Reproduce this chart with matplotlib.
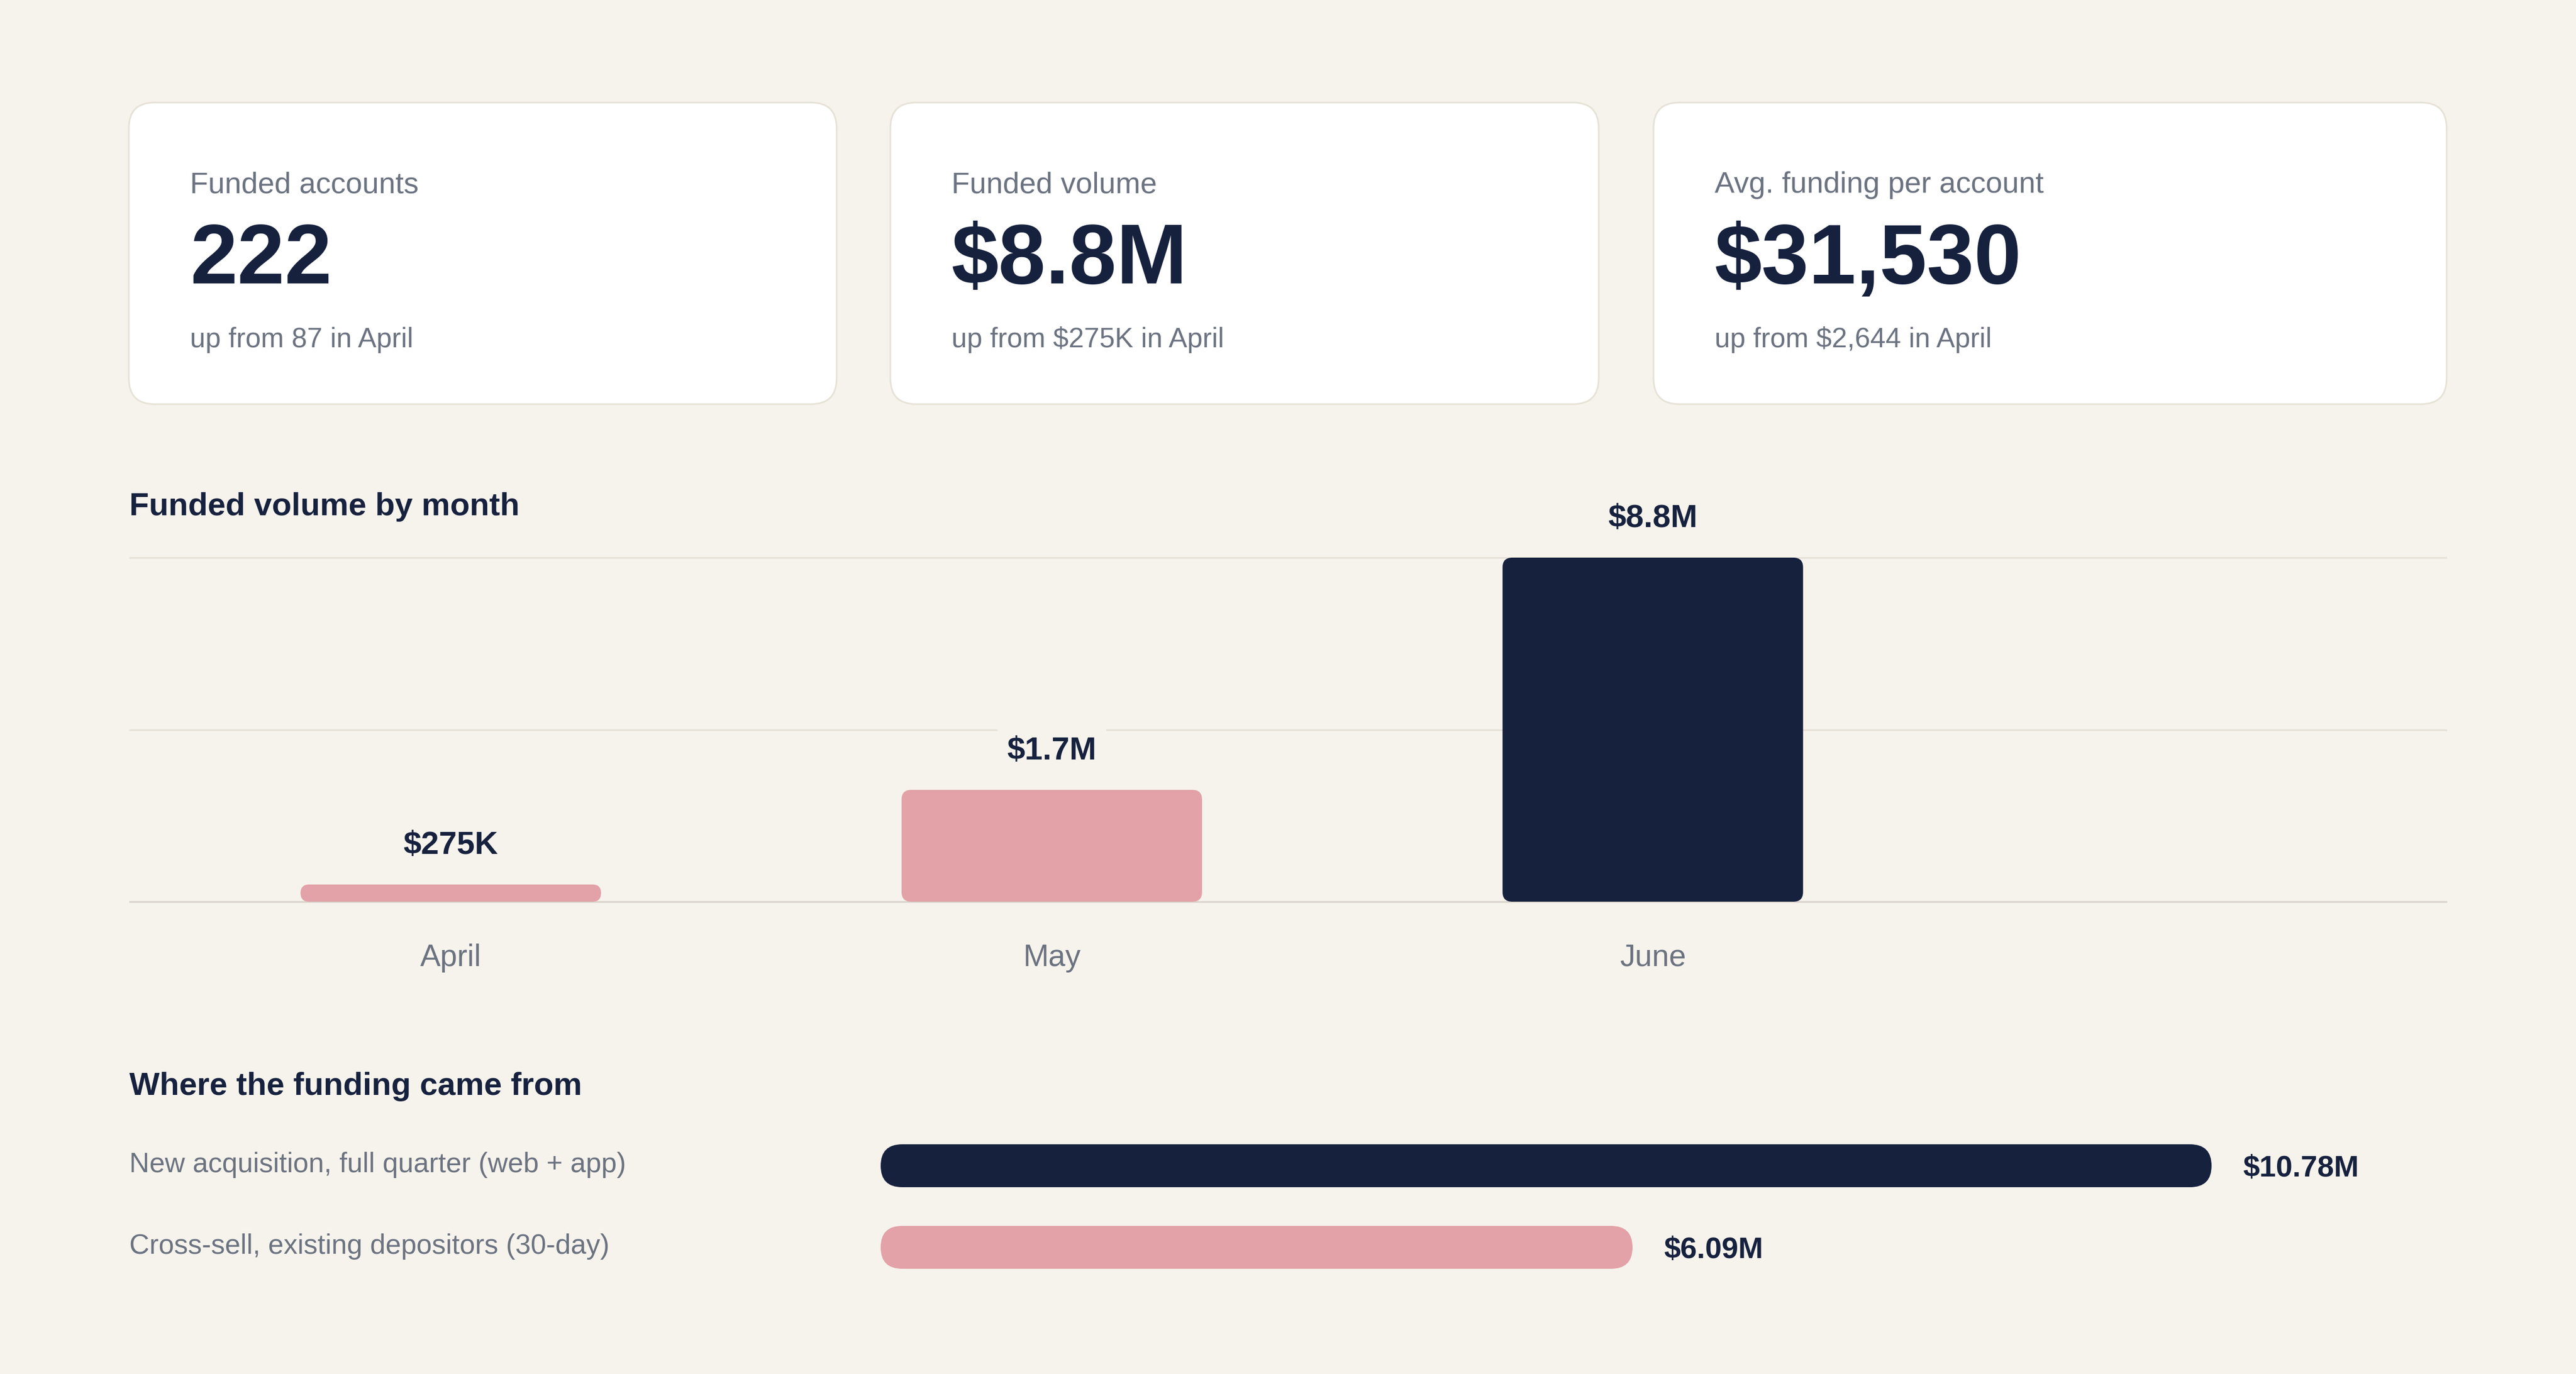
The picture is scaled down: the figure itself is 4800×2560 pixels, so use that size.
#...............................................................
# funding dashboard: KPI cards, monthly volume, funding sources
#...............................................................
import numpy as np
import matplotlib
matplotlib.use("Agg")
import matplotlib.pyplot as plt
from matplotlib.patches import FancyBboxPatch
from matplotlib import transforms

#...............................................................
# data
card_titles = ["Funded accounts", "Funded volume", "Avg. funding per account"]
card_values = ["222", "$8.8M", "$31,530"]
card_notes = ["up from 87 in April", "up from $275K in April",
              "up from $2,644 in April"]

months = ["April", "May", "June"]
month_heights = [0.44, 2.86, 8.8]      # drawn bar heights, $M
month_labels = ["$275K", "$1.7M", "$8.8M"]

sources = ["New acquisition, full quarter (web + app)",
           "Cross-sell, existing depositors (30-day)"]
source_values = [10.78, 6.09]          # $M
source_labels = ["$10.78M", "$6.09M"]

#...............................................................
# styling
BG = "#F6F3EC"
NAVY = "#16213E"
PINK = "#E2A2A7"
GRAY = "#6B7280"
GRID = "#E6E1D8"
BORDER = "#E7E2D7"
month_colors = [PINK, PINK, NAVY]
source_colors = [NAVY, PINK]

plt.rcParams["font.family"] = ["Liberation Sans", "DejaVu Sans"]

W, H, DPI = 4800, 2560, 200
fig = plt.figure(figsize=(W / DPI, H / DPI), dpi=DPI, facecolor=BG)

# canvas in pixel units for cards and headings
canvas = fig.add_axes([0, 0, 1, 1])
canvas.set_xlim(0, W)
canvas.set_ylim(H, 0)
canvas.axis("off")


def fig_rect(left, top, right, bottom):
    return [left / W, 1 - bottom / H, (right - left) / W, (bottom - top) / H]


def round_bars(ax, bars, colors, r_px):
    # swap plain bars for rounded ones, radius given in pixels
    p0 = ax.transData.transform((0, 0))
    p1 = ax.transData.transform((1, 1))
    sx, sy = abs(p1[0] - p0[0]), abs(p1[1] - p0[1])
    for b, c in zip(bars, colors):
        x, y, w, h = b.get_x(), b.get_y(), b.get_width(), b.get_height()
        b.remove()
        r = min(r_px, abs(h) * sy / 2, abs(w) * sx / 2)
        ax.add_patch(FancyBboxPatch((x, y), w, h,
                                    boxstyle="round,pad=0,rounding_size=%g" % (r / sx),
                                    mutation_aspect=sx / sy,
                                    fc=c, ec="none", zorder=2))


#...............................................................
# KPI cards
card_left = [240, 1659, 3081]
card_right = [1559, 2979, 4559]
for i in range(len(card_titles)):
    l, r = card_left[i], card_right[i]
    canvas.add_patch(FancyBboxPatch((l, 191), r - l, 562,
                                    boxstyle="round,pad=0,rounding_size=48",
                                    fc="white", ec=BORDER, lw=1.1))
    tx = l + 114
    canvas.text(tx, 359, card_titles[i], fontsize=20, color=GRAY, va="baseline")
    canvas.text(tx, 528, card_values[i], fontsize=57, color=NAVY,
                weight="bold", va="baseline")
    canvas.text(tx, 647, card_notes[i], fontsize=18.6, color=GRAY, va="baseline")

#...............................................................
# funded volume by month
canvas.text(241, 960, "Funded volume by month", fontsize=21.5, color=NAVY,
            weight="bold", va="baseline")

ax1 = fig.add_axes(fig_rect(242, 1039, 4558, 1680))
ax1.set_facecolor("none")
ax1.set_xlim(-0.534, 3.32)
ax1.set_ylim(0, 8.8)
for yv in [4.4, 8.8]:
    ax1.axhline(yv, color=GRID, lw=1.1, zorder=0, clip_on=False)
ax1.axhline(0, color="#DAD4CC", lw=1.2, zorder=1, clip_on=False)

xpos = np.arange(len(months))
bars = ax1.bar(xpos, month_heights, width=0.5)
round_bars(ax1, bars, month_colors, 18)

for xi, hv, lab in zip(xpos, month_heights, month_labels):
    ax1.annotate(lab, (xi, hv), xytext=(0, 26), textcoords="offset points",
                 ha="center", va="center", fontsize=21.6, weight="bold",
                 color=NAVY, zorder=4, annotation_clip=False,
                 bbox=dict(boxstyle="square,pad=0.3", fc=BG, ec="none"))

ax1.set_xticks(xpos, months)
ax1.tick_params(axis="x", length=0, pad=28, labelsize=20.5, labelcolor=GRAY)
ax1.set_yticks([])
for s in ax1.spines.values():
    s.set_visible(False)

#...............................................................
# where the funding came from
canvas.text(241, 2040, "Where the funding came from", fontsize=21.5, color=NAVY,
            weight="bold", va="baseline")

ax2 = fig.add_axes(fig_rect(1641, 2096, 4558, 2400))
ax2.set_facecolor("none")
ax2.set_xlim(0, 12.68)
ax2.set_ylim(1.5, -0.5)
ypos = np.arange(len(sources))
hbars = ax2.barh(ypos, source_values, height=0.526)
round_bars(ax2, hbars, source_colors, 200)

for yi, v, lab in zip(ypos, source_values, source_labels):
    ax2.annotate(lab, (v, yi), xytext=(21, -2), textcoords="offset points",
                 ha="left", va="center", fontsize=20.0, weight="bold",
                 color=NAVY, annotation_clip=False)

blend = transforms.blended_transform_factory(fig.transFigure, ax2.transData)
for yi, name in zip(ypos, sources):
    ax2.annotate(name, (241 / W, yi), xycoords=blend, xytext=(0, 0.5),
                 textcoords="offset points", ha="left", va="center",
                 fontsize=18.65, color=GRAY, annotation_clip=False)

ax2.axis("off")

fig.savefig("out.png", dpi=DPI, facecolor=BG)
